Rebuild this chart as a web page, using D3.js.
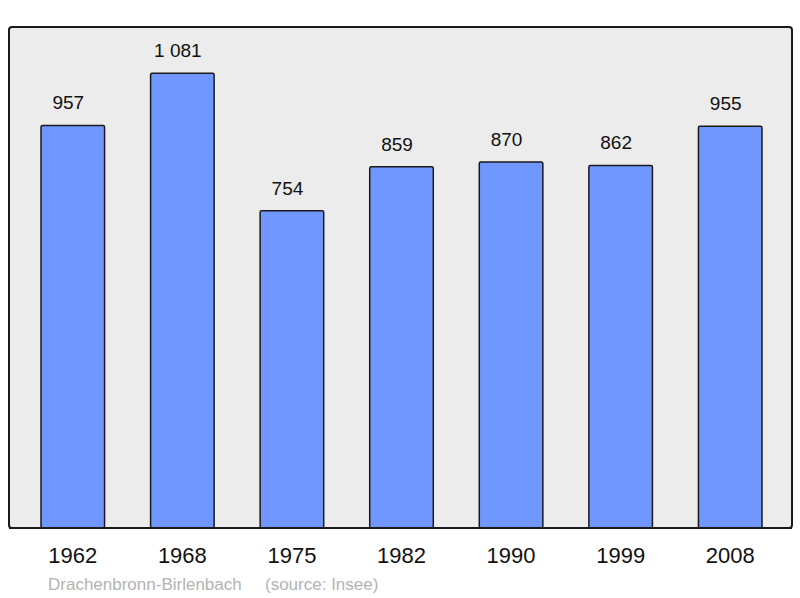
<!DOCTYPE html>
<html>
<head>
<meta charset="utf-8">
<script src="https://cdn.jsdelivr.net/npm/d3@7"></script>
<style>
    body{margin:0;background:#fff;}
    svg{display:block;font-family:"Liberation Sans",Arial,sans-serif;}
</style>
</head>
<body>
<svg id="chart" width="800" height="598"></svg>
<script>
// données population
var years=["1962","1968","1975","1982","1990","1999","2008"];
var population=[957,1081,754,859,870,862,955];
var valueLabels=["957","1 081","754","859","870","862","955"];
var commune="Drachenbronn-Birlenbach";
var source="(source: Insee)";

var svg=d3.select("#chart");

var x=d3.scaleBand().domain(years).range([18,785]).paddingInner(0.42).paddingOuter(0.21);
var y=d3.scaleLinear().domain([0,1191]).range([528,27]);

// fond du graphique
svg.append("rect")
    .attr("x",9).attr("y",27)
    .attr("width",783).attr("height",501)
    .attr("rx",3)
    .attr("fill","#ececec")
    .attr("stroke","#1a1a1a")
    .attr("stroke-width",2);

var g=svg.append("g");
g.selectAll("rect.bar").data(population).enter().append("rect")
    .attr("class","bar")
    .attr("x",function(d,i){return x(years[i]);})
    .attr("y",function(d){return y(d);})
    .attr("width",x.bandwidth())
    .attr("height",function(d){return y(0)-y(d);})
    .attr("rx",1.5)
    .attr("fill","#7097ff")
    .attr("stroke","#1a1a1a")
    .attr("stroke-width",1.5);

// étiquettes légèrement décalées à gauche comme l'original
g.selectAll("text.val").data(population).enter().append("text")
    .attr("class","val")
    .attr("x",function(d,i){return x(years[i])+x.bandwidth()/2-4.5;})
    .attr("y",function(d){return y(d)-16;})
    .attr("text-anchor","middle")
    .attr("font-size",19)
    .attr("fill","#111")
    .text(function(d,i){return valueLabels[i];});

// redessiner le bord bas par-dessus les barres
svg.append("line")
    .attr("x1",9).attr("x2",792)
    .attr("y1",528).attr("y2",528)
    .attr("stroke","#1a1a1a").attr("stroke-width",2);

var xAxis=d3.axisBottom(x).tickSize(0).tickPadding(0);
var ax=svg.append("g").attr("transform","translate(0,547)").call(xAxis);
ax.select(".domain").remove();
ax.selectAll("text")
    .attr("font-size",22)
    .attr("fill","#111")
    .attr("dy","0.71em")
    .style("font-family","Liberation Sans, Arial, sans-serif");

svg.append("text")
    .attr("x",48).attr("y",590)
    .attr("font-size",17)
    .attr("fill","#b3b3b3")
    .text(commune);
svg.append("text")
    .attr("x",265).attr("y",590)
    .attr("font-size",17)
    .attr("fill","#b3b3b3")
    .text(source);
</script>
</body>
</html>
